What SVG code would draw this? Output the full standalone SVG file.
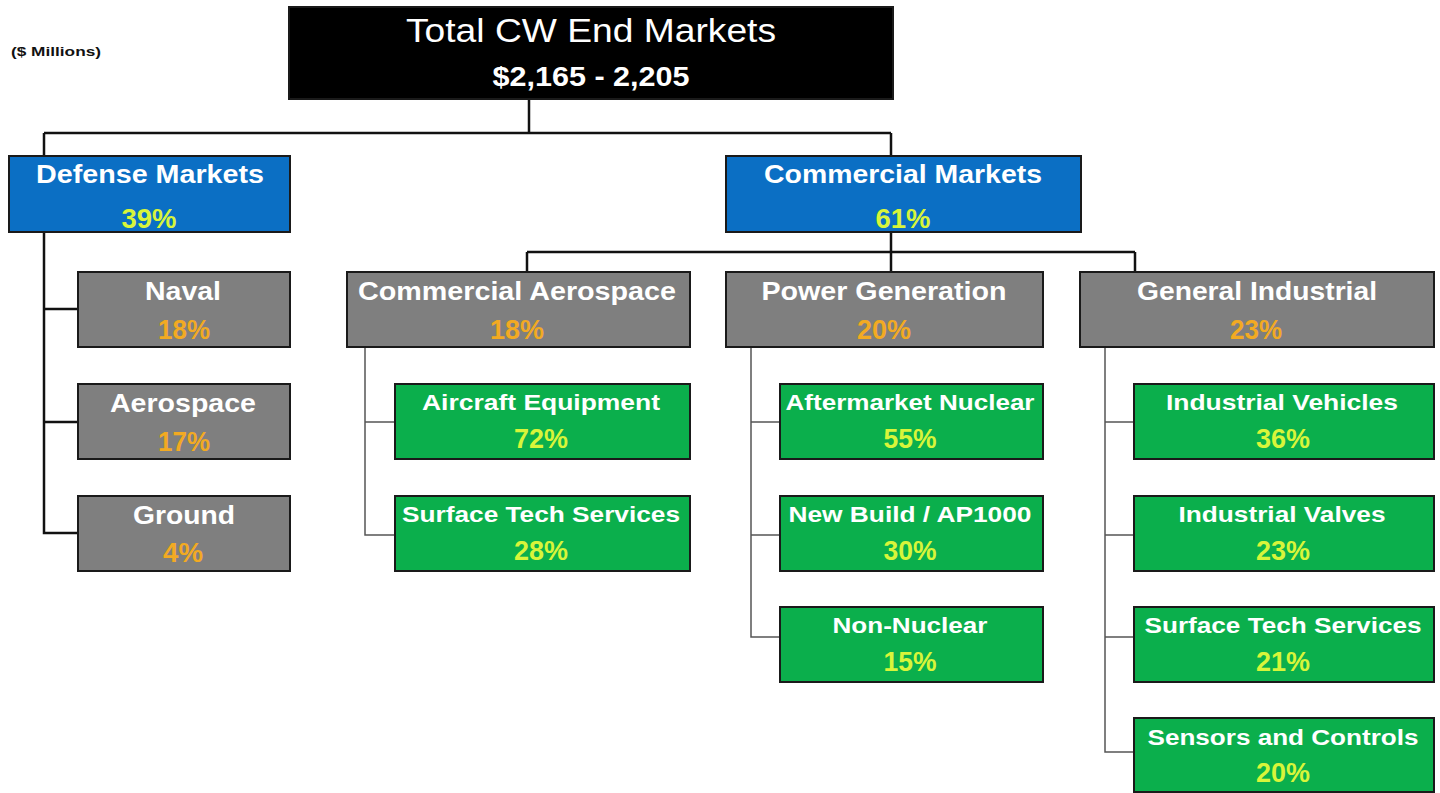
<svg xmlns="http://www.w3.org/2000/svg" width="1440" height="793" viewBox="0 0 1440 793">
<style>
text{font-family:"Liberation Sans",Arial,sans-serif;font-weight:bold;text-anchor:middle}
.top{fill:#000;stroke:#1a1a1a;stroke-width:2}
.blue{fill:#0B6FC4;stroke:#1a1a1a;stroke-width:2}
.gray{fill:#7F7F7F;stroke:#1a1a1a;stroke-width:2}
.green{fill:#0BAF4C;stroke:#1a1a1a;stroke-width:2}
.tw{fill:#FFFFFF}
.ty{fill:#D8F53A}
.to{fill:#F2AA22}
.t1{font-size:33px;font-weight:normal}
.t2{font-size:28px}
.h{font-size:25px}
.p{font-size:27px}
.g{font-size:22px}
.main{fill:none;stroke:#111;stroke-width:2.5}
.sub{fill:none;stroke:#555;stroke-width:1.5}
</style>
<rect width="1440" height="793" fill="#FFFFFF"/>
<text x="56" y="56" font-size="13" fill="#111" textLength="90" lengthAdjust="spacingAndGlyphs">($ Millions)</text>
<g id="connectors">
<path class="main" d="M529,99V133M44,133H891M44,133V155M891,133V155"/>
<path class="main" d="M44,232V533H78M44,309H78M44,422H78"/>
<path class="main" d="M891,232V252M527,252H1135M527,252V272M891,252V272M1135,252V272"/>
<path class="sub" d="M365,347V535H395M365,422H395"/>
<path class="sub" d="M751,347V637H780M751,422H780M751,535H780"/>
<path class="sub" d="M1105,347V752H1134M1105,422H1134M1105,535H1134M1105,637H1134"/>
</g>
<g id="total">
<rect class="top" x="289" y="7" width="604" height="92"/>
<text class="tw t1" x="591" y="42" textLength="370" lengthAdjust="spacingAndGlyphs">Total CW End Markets</text>
<text class="tw t2" x="591" y="86" textLength="197" lengthAdjust="spacingAndGlyphs">$2,165 - 2,205</text>
</g>
<g id="defense">
<rect class="blue" x="9" y="156" width="281" height="76"/>
<text class="tw h" x="150" y="183" textLength="228" lengthAdjust="spacingAndGlyphs">Defense Markets</text>
<text class="ty p" x="149" y="228" textLength="55" lengthAdjust="spacingAndGlyphs">39%</text>
</g>
<g id="commercial">
<rect class="blue" x="726" y="156" width="355" height="76"/>
<text class="tw h" x="903" y="183" textLength="278" lengthAdjust="spacingAndGlyphs">Commercial Markets</text>
<text class="ty p" x="903" y="228" textLength="55" lengthAdjust="spacingAndGlyphs">61%</text>
</g>
<g id="naval">
<rect class="gray" x="78" y="272" width="212" height="75"/>
<text class="tw h" x="183" y="300" textLength="76" lengthAdjust="spacingAndGlyphs">Naval</text>
<text class="to p" x="184" y="339" textLength="52" lengthAdjust="spacingAndGlyphs">18%</text>
</g>
<g id="aerospace">
<rect class="gray" x="78" y="384" width="212" height="75"/>
<text class="tw h" x="183" y="412" textLength="146" lengthAdjust="spacingAndGlyphs">Aerospace</text>
<text class="to p" x="184" y="451" textLength="52" lengthAdjust="spacingAndGlyphs">17%</text>
</g>
<g id="ground">
<rect class="gray" x="78" y="496" width="212" height="75"/>
<text class="tw h" x="184" y="524" textLength="102" lengthAdjust="spacingAndGlyphs">Ground</text>
<text class="to p" x="183" y="562" textLength="40" lengthAdjust="spacingAndGlyphs">4%</text>
</g>
<g id="commercial-aerospace">
<rect class="gray" x="347" y="272" width="343" height="75"/>
<text class="tw h" x="517" y="300" textLength="318" lengthAdjust="spacingAndGlyphs">Commercial Aerospace</text>
<text class="to p" x="517" y="339" textLength="54" lengthAdjust="spacingAndGlyphs">18%</text>
</g>
<g id="power-generation">
<rect class="gray" x="726" y="272" width="317" height="75"/>
<text class="tw h" x="884" y="300" textLength="245" lengthAdjust="spacingAndGlyphs">Power Generation</text>
<text class="to p" x="884" y="339" textLength="54" lengthAdjust="spacingAndGlyphs">20%</text>
</g>
<g id="general-industrial">
<rect class="gray" x="1080" y="272" width="354" height="75"/>
<text class="tw h" x="1257" y="300" textLength="240" lengthAdjust="spacingAndGlyphs">General Industrial</text>
<text class="to p" x="1256" y="339" textLength="52" lengthAdjust="spacingAndGlyphs">23%</text>
</g>
<g id="aircraft-equipment">
<rect class="green" x="395" y="384" width="295" height="75"/>
<text class="tw g" x="541" y="410" textLength="238" lengthAdjust="spacingAndGlyphs">Aircraft Equipment</text>
<text class="ty p" x="541" y="448" textLength="54" lengthAdjust="spacingAndGlyphs">72%</text>
</g>
<g id="surface-tech-ca">
<rect class="green" x="395" y="496" width="295" height="75"/>
<text class="tw g" x="541" y="522" textLength="278" lengthAdjust="spacingAndGlyphs">Surface Tech Services</text>
<text class="ty p" x="541" y="560" textLength="54" lengthAdjust="spacingAndGlyphs">28%</text>
</g>
<g id="aftermarket-nuclear">
<rect class="green" x="780" y="384" width="263" height="75"/>
<text class="tw g" x="910" y="410" textLength="249" lengthAdjust="spacingAndGlyphs">Aftermarket Nuclear</text>
<text class="ty p" x="910" y="448" textLength="53" lengthAdjust="spacingAndGlyphs">55%</text>
</g>
<g id="new-build">
<rect class="green" x="780" y="496" width="263" height="75"/>
<text class="tw g" x="910" y="522" textLength="243" lengthAdjust="spacingAndGlyphs">New Build / AP1000</text>
<text class="ty p" x="910" y="560" textLength="53" lengthAdjust="spacingAndGlyphs">30%</text>
</g>
<g id="non-nuclear">
<rect class="green" x="780" y="607" width="263" height="75"/>
<text class="tw g" x="910" y="633" textLength="155" lengthAdjust="spacingAndGlyphs">Non-Nuclear</text>
<text class="ty p" x="910" y="671" textLength="53" lengthAdjust="spacingAndGlyphs">15%</text>
</g>
<g id="industrial-vehicles">
<rect class="green" x="1134" y="384" width="300" height="75"/>
<text class="tw g" x="1282" y="410" textLength="232" lengthAdjust="spacingAndGlyphs">Industrial Vehicles</text>
<text class="ty p" x="1283" y="448" textLength="54" lengthAdjust="spacingAndGlyphs">36%</text>
</g>
<g id="industrial-valves">
<rect class="green" x="1134" y="496" width="300" height="75"/>
<text class="tw g" x="1282" y="522" textLength="207" lengthAdjust="spacingAndGlyphs">Industrial Valves</text>
<text class="ty p" x="1283" y="560" textLength="54" lengthAdjust="spacingAndGlyphs">23%</text>
</g>
<g id="surface-tech-gi">
<rect class="green" x="1134" y="607" width="300" height="75"/>
<text class="tw g" x="1283" y="633" textLength="277" lengthAdjust="spacingAndGlyphs">Surface Tech Services</text>
<text class="ty p" x="1283" y="671" textLength="54" lengthAdjust="spacingAndGlyphs">21%</text>
</g>
<g id="sensors-controls">
<rect class="green" x="1134" y="718" width="300" height="74"/>
<text class="tw g" x="1283" y="745" textLength="271" lengthAdjust="spacingAndGlyphs">Sensors and Controls</text>
<text class="ty p" x="1283" y="782" textLength="54" lengthAdjust="spacingAndGlyphs">20%</text>
</g>
</svg>
